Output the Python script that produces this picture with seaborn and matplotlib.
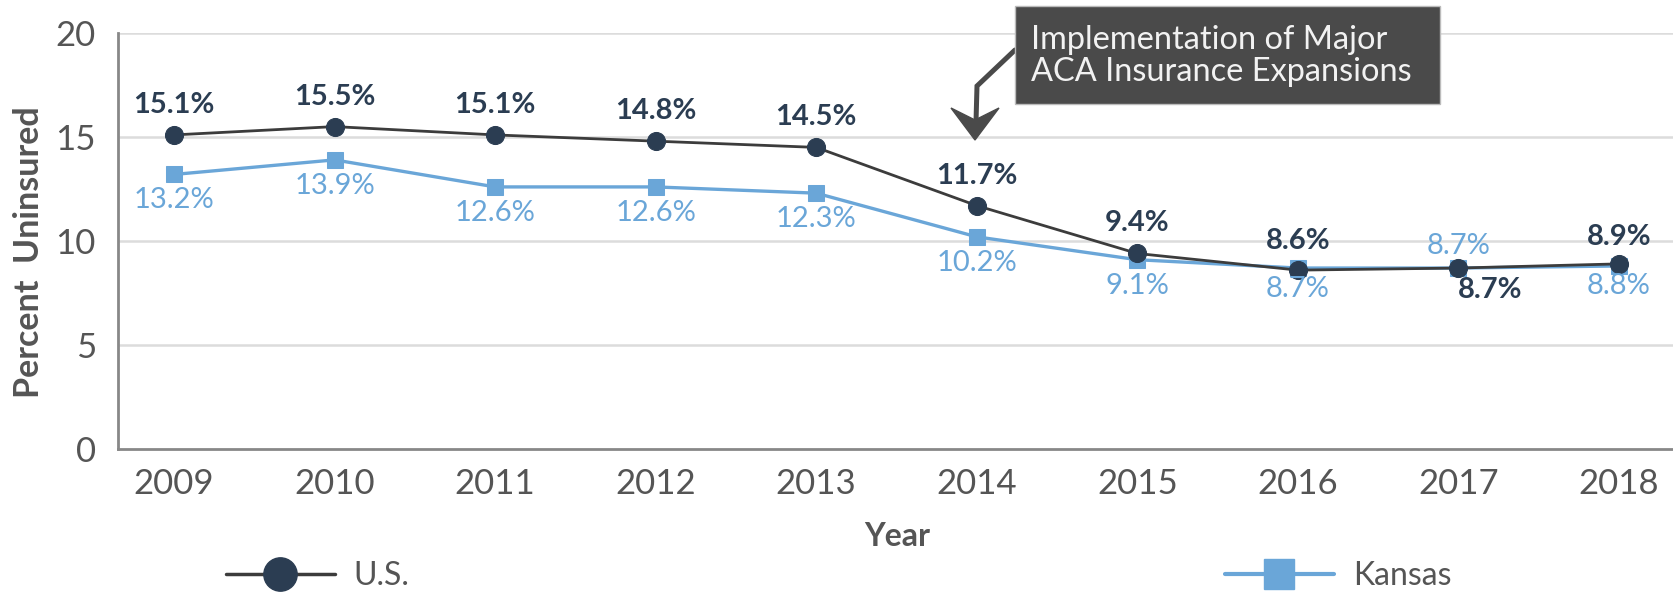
import matplotlib
matplotlib.use("Agg")
import matplotlib.pyplot as plt
import seaborn as sns
import pandas as pd
from matplotlib.lines import Line2D
from matplotlib.patches import Rectangle, Polygon

# ---- data ----
years = [2009, 2010, 2011, 2012, 2013, 2014, 2015, 2016, 2017, 2018]
us_values = [15.1, 15.5, 15.1, 14.8, 14.5, 11.7, 9.4, 8.6, 8.7, 8.9]
kansas_values = [13.2, 13.9, 12.6, 12.6, 12.3, 10.2, 9.1, 8.7, 8.7, 8.8]
y_ticks = [0, 5, 10, 15, 20]
series_names = ["U.S.", "Kansas"]
annotation_text = "Implementation of Major\nACA Insurance Expansions"

US_LINE = "#3c3c3c"
US_MARK = "#2b3d52"
KS_COL = "#6aa6d8"
TXT = "#555555"
ANN = "#4a4a4a"

sns.set_theme(style="white")
plt.rcParams["font.family"] = ["Lato", "DejaVu Sans"]

W, H = 1673, 592
fig = plt.figure(figsize=(W / 100, H / 100), dpi=100)
ax = fig.add_axes([118 / W, 1 - 449 / H, (W - 118) / W, (449 - 33) / H])

df = pd.DataFrame({"Year": years, "US": us_values, "Kansas": kansas_values})

sns.lineplot(data=df, x="Year", y="US", ax=ax, color=US_LINE, lw=2,
             marker="o", markersize=13, markerfacecolor=US_MARK,
             markeredgecolor=US_MARK, zorder=4)
sns.lineplot(data=df, x="Year", y="Kansas", ax=ax, color=KS_COL, lw=2.4,
             marker="s", markersize=12, markerfacecolor=KS_COL,
             markeredgecolor=KS_COL, zorder=3)

ax.set_xlim(2009 - 56 / 160.5, 2018 + 54 / 160.5)
ax.set_ylim(0, 20)
ax.set_yticks(y_ticks)
ax.set_xticks(years)
ax.set_xticklabels([str(y) for y in years])
ax.tick_params(axis="x", direction="in", length=17, width=1.5, color="#777777",
               labelsize=25, labelcolor=TXT, pad=14)
ax.tick_params(axis="y", length=0, labelsize=25, labelcolor=TXT, pad=16)
for s in ["top", "right"]:
    ax.spines[s].set_visible(False)
for s in ["left", "bottom"]:
    ax.spines[s].set_color("#888888")
    ax.spines[s].set_linewidth(2)
for yv in y_ticks[1:]:
    ax.axhline(yv, color="#dcdcdc", lw=1.8, zorder=0)

ax.set_xlabel("")
ax.set_ylabel("")


def fx(px):
    return px / W


def fy(py):
    return 1 - py / H


fig.text(fx(29), fy(252), "Percent  Uninsured", rotation=90, ha="center",
         va="center", fontsize=24.5, fontweight="bold", color=TXT)
fig.text(fx(897), fy(536), "Year", ha="center", va="center",
         fontsize=23, fontweight="bold", color=TXT)

# data labels (offsets in pixels)
us_off = [(0, 30)] * 7 + [(0, 29), (32, -22), (0, 27)]
ks_off = [(0, -26)] * 7 + [(0, -21), (0, 22), (0, -20)]
for x, v, off in zip(years, us_values, us_off):
    ax.annotate(f"{v}%", (x, v), xytext=off, textcoords="offset pixels",
                ha="center", va="center", fontsize=21, fontweight="bold",
                color=US_MARK, zorder=6)
for x, v, off in zip(years, kansas_values, ks_off):
    ax.annotate(f"{v}%", (x, v), xytext=off, textcoords="offset pixels",
                ha="center", va="center", fontsize=21, color=KS_COL, zorder=6)

# annotation box + arrow (figure pixel coords)
fig.patches.append(Rectangle((fx(1015), fy(104)), (1440 - 1015) / W, (104 - 6) / H,
                             transform=fig.transFigure, facecolor=ANN,
                             edgecolor="#bbbbbb", lw=1, zorder=5))
fig.text(fx(1031), fy(56), annotation_text, ha="left", va="center",
         fontsize=23.4, color="#f2f2f2", linespacing=1.12, zorder=6)
fig.lines.append(Line2D([fx(1015), fx(977), fx(976)], [fy(50), fy(86), fy(122)],
                        transform=fig.transFigure, color=ANN, lw=3.6,
                        solid_joinstyle="miter"))
fig.patches.append(Polygon([(fx(975), fy(140)), (fx(951), fy(108)),
                            (fx(975), fy(120)), (fx(999), fy(108))],
                           closed=True, transform=fig.transFigure,
                           facecolor=ANN, edgecolor=ANN, lw=1))

# legends
h_us = Line2D([], [], color=US_LINE, lw=2.5, marker="o", markersize=24,
              markerfacecolor=US_MARK, markeredgecolor=US_MARK)
h_ks = Line2D([], [], color=KS_COL, lw=3, marker="s", markersize=22,
              markerfacecolor=KS_COL, markeredgecolor=KS_COL)
fig.legend([h_us], [series_names[0]], loc="center left",
           bbox_to_anchor=(fx(226), fy(576)), frameon=False, fontsize=23,
           handlelength=3.4, handletextpad=0.6, borderpad=0,
           borderaxespad=0, labelcolor=TXT)
fig.legend([h_ks], [series_names[1]], loc="center left",
           bbox_to_anchor=(fx(1225), fy(576)), frameon=False, fontsize=23,
           handlelength=3.4, handletextpad=0.6, borderpad=0,
           borderaxespad=0, labelcolor=TXT)

fig.savefig("out.png", dpi=100)
